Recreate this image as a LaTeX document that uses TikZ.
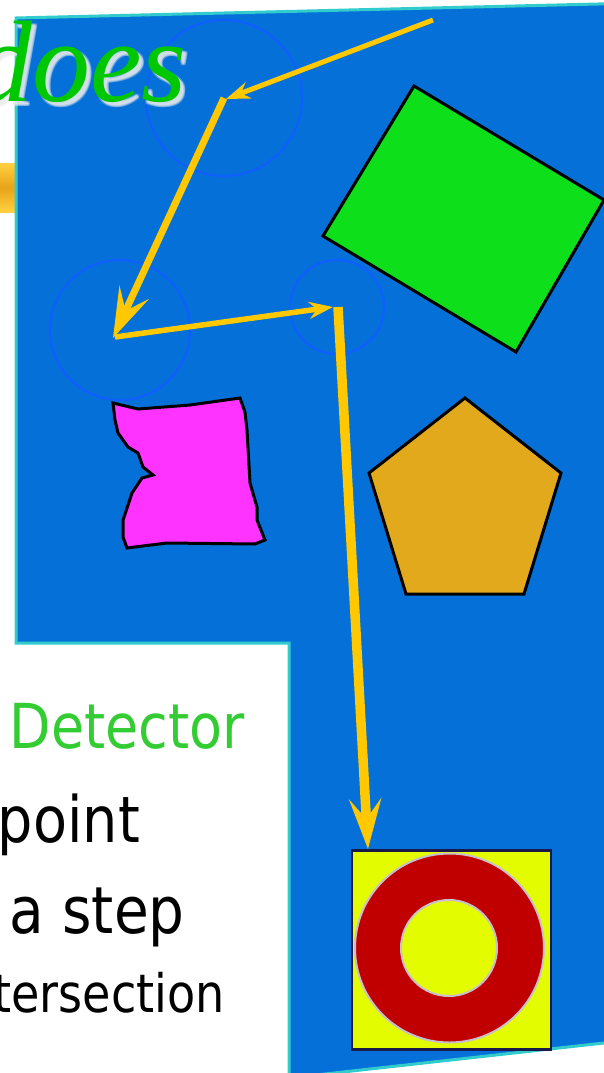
\documentclass[tikz,border=0pt]{standalone}
\usepackage{graphicx}
\usepackage{fontspec}
\usetikzlibrary{arrows.meta}
\newfontfamily\serifit{Liberation Serif}
\newfontfamily\tah{DejaVu Sans}
\definecolor{bgblue}{HTML}{0570D8}
\definecolor{bordercyan}{HTML}{33CCCC}
\definecolor{ringblue}{HTML}{0F5FFF}
\definecolor{arrowyel}{HTML}{FFC800}
\definecolor{rectgreen}{HTML}{0DE01B}
\definecolor{pentorange}{HTML}{E2A91C}
\definecolor{blobmag}{HTML}{FF33FF}
\definecolor{tgtyel}{HTML}{E4FC00}
\definecolor{tgtred}{HTML}{C00000}
\definecolor{tgtgray}{HTML}{C8C0CC}
\definecolor{tgtnavy}{HTML}{1A1A4A}
\definecolor{doesgreen}{HTML}{00C800}
\definecolor{detgreen}{HTML}{33CC33}
\definecolor{blobA}{HTML}{FFD040}
\definecolor{blobB}{HTML}{E8A418}
\tikzset{
  shapeline/.style={draw=black, line width=3pt, line join=miter},
  window/.style={circle, draw=ringblue, line width=2.2pt, inner sep=0pt, minimum size=#1},
  thinarrow/.style={draw=arrowyel, line width=5pt,
     -{Stealth[length=24pt, width=17pt, inset=8pt, fill=arrowyel]}},
  thickarrow/.style={draw=arrowyel, line width=#1,
     -{Stealth[length=50pt, width=32pt, inset=20pt, fill=arrowyel]}},
  bodytext/.style={inner sep=0pt, text=black},
}
\begin{document}
\begin{tikzpicture}[x=1pt, y=-1pt]
\useasboundingbox (0,0) rectangle (604,1073);
\clip (0,0) rectangle (604,1073);
\fill[white] (0,0) rectangle (604,1073);
% yellow blob at left
\shade[top color=blobA, bottom color=blobA, middle color=blobB] (0,163) rectangle (15,212);
% blue panel
\filldraw[fill=bgblue, draw=bordercyan, line width=3pt]
  (16,18) -- (640,3) -- (640,1039) -- (289,1078) -- (289,643) -- (16,643) -- cycle;
% windows
\node[window=156pt] (w1) at (224,98) {};
\node[window=140pt] (w2) at (120,330) {};
\node[window=94pt] (w3) at (337,307) {};
% shapes
\filldraw[shapeline, fill=rectgreen] (414,86) -- (604,200) -- (516,352) -- (323,236) -- cycle;
\filldraw[shapeline, fill=pentorange] (465,398) -- (561,473) -- (524,594) -- (406,594) -- (369,473) -- cycle;
\filldraw[shapeline, fill=blobmag]
  (113,403) -- (138,409) -- (190,405) -- (240,398) -- (245,412) -- (247,430) -- (250,483)
  -- (257,507) -- (257,520) -- (265,540) -- (255,544) -- (167,543) -- (127,548) -- (123,537)
  -- (123,520) -- (132,493) -- (142,478) -- (153,475) -- (143,467) -- (138,453) -- (128,447)
  -- (118,433) -- (115,420) -- cycle;
% target
\node[draw=tgtnavy, fill=tgtyel, line width=2.5pt, minimum size=199pt, inner sep=0pt] (tgt) at (451.5,950) {};
\node[circle, draw=tgtgray, fill=tgtred, line width=2pt, minimum size=189pt, inner sep=0pt] (ring) at (449.5,948) {};
\node[circle, draw=tgtgray, fill=tgtyel, line width=2pt, minimum size=96pt, inner sep=0pt] (hole) at (449,948) {};
% path coordinates
\coordinate (p1) at (433,20);
\coordinate (p2) at (226,99);
\coordinate (p2s) at (224,98);
\coordinate (p3) at (113,338);
\coordinate (p3s) at (115,337);
\coordinate (p4) at (333,307);
\coordinate (p4s) at (338,307);
\coordinate (p5) at (368,849);
% arrows
\draw[thinarrow] (p1) -- (p2);
\draw[thickarrow=7pt] (p2s) -- (p3);
\draw[thinarrow, line width=5.5pt] (p3s) -- (p4);
\draw[thickarrow=9.5pt] (p4s) -- (p5);
% title word with soft shadow
\foreach \dx/\dy/\op in {3/3/0.35, 5/5/0.35, 4/4/0.5, 5/3/0.3, 3/5/0.3} {
  \node[anchor=base east, inner sep=0pt, text=white!85!gray, opacity=\op] at (187+\dx,101+\dy)
    {\serifit\itshape\fontsize{116}{116}\selectfont does};
}
\node[anchor=base east, inner sep=0pt, text=doesgreen] (does) at (187,101)
  {\serifit\itshape\fontsize{116}{116}\selectfont does};
% body text
\node[bodytext, anchor=base east, text=detgreen] (det) at (245,748)
  {\scalebox{0.87}[1]{\tah\fontsize{62}{62}\selectfont Detector}};
\node[bodytext, anchor=base east] (pt) at (140,842)
  {\scalebox{0.87}[1]{\tah\fontsize{64}{64}\selectfont point}};
\node[bodytext, anchor=base east] (st) at (185,933)
  {\scalebox{0.87}[1]{\tah\fontsize{65}{65}\selectfont a step}};
\node[bodytext, anchor=base east] (ix) at (225,1012)
  {\scalebox{0.87}[1]{\tah\fontsize{53}{53}\selectfont tersection}};
\end{tikzpicture}
\end{document}
